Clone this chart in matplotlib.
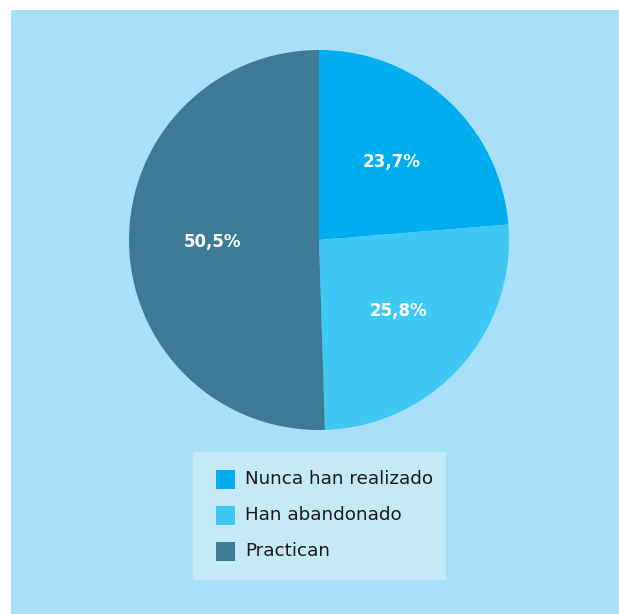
import matplotlib
matplotlib.use("Agg")
import matplotlib.pyplot as plt
from matplotlib.patches import Rectangle

labels = ["Nunca han realizado", "Han abandonado", "Practican"]
values = [23.7, 25.8, 50.5]
colors = ["#00AEEF", "#40C8F5", "#3D7A93"]

W, H = 619, 614
fig = plt.figure(figsize=(W / 100, H / 100), dpi=100)
fig.patch.set_facecolor("white")

# light blue panel behind everything
fig.add_artist(Rectangle((11 / W, 0), 1 - 11 / W, 1 - 10 / H,
                         transform=fig.transFigure, facecolor="#A8E0FA",
                         edgecolor="none", zorder=0))

ax = fig.add_axes([129 / W, 1 - 430 / H, 380 / W, 380 / H])
ax.set_facecolor("none")
wedges, _, autotexts = ax.pie(
    values, colors=colors, startangle=90, counterclock=False,
    autopct=lambda p: f"{p:.1f}%".replace(".", ","), pctdistance=0.56,
    wedgeprops=dict(linewidth=0), radius=1,
    textprops=dict(color="white", fontsize=12, fontweight="bold",
                   family="DejaVu Sans"))
ax.set_xlim(-1, 1)
ax.set_ylim(-1, 1)
ax.set_aspect("equal")
ax.axis("off")

# legend box
fig.add_artist(Rectangle((193 / W, 1 - 580 / H), 253 / W, 128 / H,
                         transform=fig.transFigure, facecolor="#C6E9F8",
                         edgecolor="none", zorder=1))
rows_y = [479, 515, 551]
for lab, col, y in zip(labels, colors, rows_y):
    fig.add_artist(Rectangle((216 / W, 1 - (y + 9.5) / H), 19 / W, 19 / H,
                             transform=fig.transFigure, facecolor=col,
                             edgecolor="none", zorder=2))
    fig.text(245 / W, 1 - y / H, lab, ha="left", va="center",
             fontsize=13.2, color="#1a1a1a", family="DejaVu Sans", zorder=3)

fig.savefig("out.png", dpi=100)
